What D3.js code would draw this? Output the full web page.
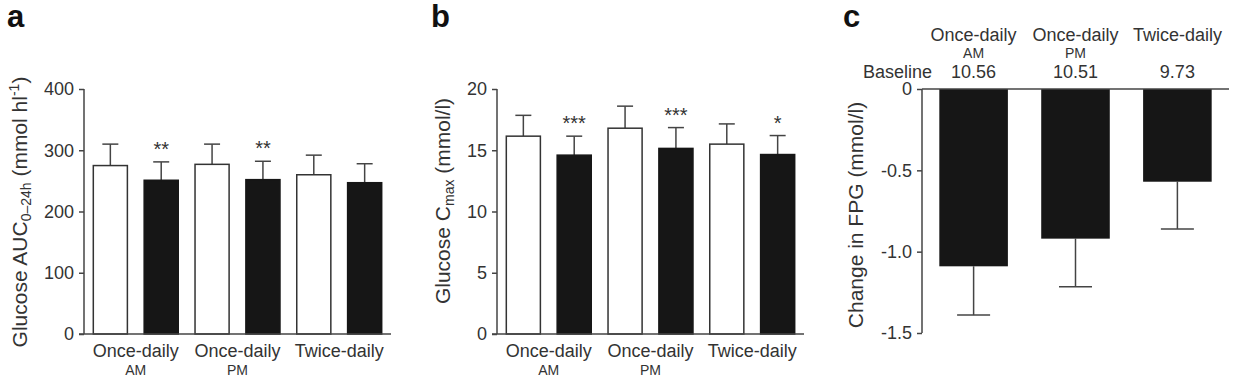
<!DOCTYPE html>
<html>
<head>
<meta charset="utf-8">
<script src="https://cdn.jsdelivr.net/npm/d3@7"></script>
<style>
  body { margin: 0; background: #fff; }
  text { font-family: "Liberation Sans", Arial, sans-serif; fill: #333; }
</style>
</head>
<body>
<div class="canvas"></div>
<script>
// data
const groups = ["Once-daily", "Once-daily", "Twice-daily"];
const subLabels = ["AM", "PM", ""];
const series = ["before", "after"];

// panel a: glucose AUC 0-24h
const aucBefore = [275, 277, 260];
const aucBeforeErr = [35, 33, 32];
const aucAfter = [251, 252, 247];
const aucAfterErr = [30, 30, 31];
const aucStars = ["**", "**", ""];
const aucTicks = [0, 100, 200, 300, 400];

// panel b: glucose Cmax
const cmaxBefore = [16.15, 16.8, 15.5];
const cmaxBeforeErr = [1.7, 1.8, 1.65];
const cmaxAfter = [14.6, 15.15, 14.65];
const cmaxAfterErr = [1.55, 1.7, 1.55];
const cmaxStars = ["***", "***", "*"];
const cmaxTicks = [0, 5, 10, 15, 20];

// panel c: change in FPG
const fpgChange = [-1.09, -0.92, -0.57];
const fpgErr = [0.3, 0.295, 0.29];
const baseline = ["10.56", "10.51", "9.73"];
const fpgTicks = [0, -0.5, -1.0, -1.5];

const W = 1236, H = 384;
const plotTop = 89, plotBottom = 334;
const axisColor = "#444";
const barBlack = "#161616";
const labelSize = 18;

const svg = d3.select(".canvas").append("svg")
  .attr("width", W)
  .attr("height", H);

// panel letters
[["a", 7, 27], ["b", 431, 27], ["c", 843, 27]].forEach(([t, x, y]) => {
  svg.append("text").attr("x", x).attr("y", y)
    .attr("font-size", 31).attr("font-weight", "bold")
    .style("fill", "#111")
    .text(t);
});

const drawLeftAxis = (g, y, ticks, fmt) => {
  const axis = d3.axisLeft(y).tickValues(ticks).tickSize(5).tickPadding(5).tickFormat(fmt);
  g.call(axis);
  g.select(".domain").attr("stroke", axisColor).attr("stroke-width", 1.5)
    .attr("d", `M0,${y.range()[0]}V${y.range()[1]}`);
  g.selectAll(".tick line").attr("stroke", axisColor).attr("stroke-width", 1.5);
  g.selectAll(".tick text").attr("font-size", labelSize).attr("fill", "#333")
    .style("font-family", '"Liberation Sans", Arial, sans-serif');
};

// grouped white/black bars with error bars (panels a, b)
const groupedPanel = (x0, x1, before, beforeErr, after, afterErr, stars, ticks, maxV, titleX, titleY, titleFn) => {
  const rows = [];
  groups.forEach((gname, i) => {
    rows.push({ key: i + "b", gi: i, s: "before", v: before[i], e: beforeErr[i], star: "" });
    rows.push({ key: i + "a", gi: i, s: "after", v: after[i], e: afterErr[i], star: stars[i] });
  });

  const x = d3.scaleBand().domain(rows.map(d => d.key)).range([x0, x1])
    .paddingInner(0.33).paddingOuter(0.183);
  const y = d3.scaleLinear().domain([0, maxV]).range([plotBottom, plotTop]);

  const g = svg.append("g");

  // error bars
  const eb = g.selectAll(".err").data(rows).enter().append("g");
  eb.append("line")
    .attr("x1", d => x(d.key) + x.bandwidth() / 2)
    .attr("x2", d => x(d.key) + x.bandwidth() / 2)
    .attr("y1", d => y(d.v))
    .attr("y2", d => y(d.v + d.e))
    .attr("stroke", axisColor).attr("stroke-width", 1.5);
  eb.append("line")
    .attr("x1", d => x(d.key) + x.bandwidth() / 2 - 8)
    .attr("x2", d => x(d.key) + x.bandwidth() / 2 + 8)
    .attr("y1", d => y(d.v + d.e))
    .attr("y2", d => y(d.v + d.e))
    .attr("stroke", axisColor).attr("stroke-width", 1.5);

  // bars
  g.selectAll(".bar").data(rows).enter().append("rect")
    .attr("x", d => x(d.key))
    .attr("width", x.bandwidth())
    .attr("y", d => y(d.v))
    .attr("height", d => plotBottom - y(d.v))
    .attr("fill", d => d.s === "before" ? "#fff" : barBlack)
    .attr("stroke", d => d.s === "before" ? "#333" : barBlack)
    .attr("stroke-width", 1.5);

  // significance stars
  g.selectAll(".star").data(rows.filter(d => d.star)).enter().append("text")
    .attr("x", d => x(d.key) + x.bandwidth() / 2)
    .attr("y", d => y(d.v + d.e) - 6)
    .attr("text-anchor", "middle")
    .attr("font-size", 20)
    .text(d => d.star);

  // x axis baseline
  g.append("line").attr("x1", x0 - 5).attr("x2", x1).attr("y1", plotBottom).attr("y2", plotBottom)
    .attr("stroke", axisColor).attr("stroke-width", 1.5);

  // group labels
  groups.forEach((gname, i) => {
    const cx = (x(i + "b") + x(i + "a") + x.bandwidth()) / 2;
    g.append("text").attr("x", cx).attr("y", 357).attr("text-anchor", "middle")
      .attr("font-size", labelSize).text(gname);
    if (subLabels[i]) {
      g.append("text").attr("x", cx).attr("y", 375).attr("text-anchor", "middle")
        .attr("font-size", 14).text(subLabels[i]);
    }
  });

  const ax = svg.append("g").attr("transform", `translate(${x0},0)`);
  drawLeftAxis(ax, y, ticks, d3.format("d"));

  const title = svg.append("text")
    .attr("transform", `translate(${titleX},${titleY}) rotate(-90)`)
    .attr("text-anchor", "middle")
    .attr("font-size", 21);
  titleFn(title);
};

groupedPanel(84, 391, aucBefore, aucBeforeErr, aucAfter, aucAfterErr, aucStars, aucTicks, 400, 27, 212, t => {
  t.append("tspan").text("Glucose AUC");
  t.append("tspan").attr("font-size", 14).attr("dy", 4).text("0\u201324h");
  t.append("tspan").attr("dy", -4).text(" (mmol hl");
  t.append("tspan").attr("font-size", 14).attr("dy", -8).text("-1");
  t.append("tspan").attr("dy", 8).text(")");
});

groupedPanel(497, 804, cmaxBefore, cmaxBeforeErr, cmaxAfter, cmaxAfterErr, cmaxStars, cmaxTicks, 20, 450, 201, t => {
  t.append("tspan").text("Glucose C");
  t.append("tspan").attr("font-size", 14).attr("dy", 4).text("max");
  t.append("tspan").attr("dy", -4).text(" (mmol/l)");
});

// panel c: change in FPG, bars hang from zero
(() => {
  const x0 = 922, x1 = 1229;
  const x = d3.scaleBand().domain(d3.range(groups.length)).range([x0, x1])
    .paddingInner(0.327).paddingOuter(0.17);
  const y = d3.scaleLinear().domain([0, -1.5]).range([plotTop, 333]);
  const g = svg.append("g");

  groups.forEach((gname, i) => {
    const cx = x(i) + x.bandwidth() / 2;
    g.append("line").attr("x1", cx).attr("x2", cx)
      .attr("y1", y(fpgChange[i])).attr("y2", y(fpgChange[i] - fpgErr[i]))
      .attr("stroke", axisColor).attr("stroke-width", 1.5);
    g.append("line").attr("x1", cx - 16.5).attr("x2", cx + 16.5)
      .attr("y1", y(fpgChange[i] - fpgErr[i])).attr("y2", y(fpgChange[i] - fpgErr[i]))
      .attr("stroke", axisColor).attr("stroke-width", 1.5);
  });

  g.selectAll(".bar").data(fpgChange).enter().append("rect")
    .attr("x", (d, i) => x(i))
    .attr("width", x.bandwidth())
    .attr("y", y(0))
    .attr("height", d => y(d) - y(0))
    .attr("fill", barBlack);

  const ax = svg.append("g").attr("transform", `translate(${x0},0)`);
  drawLeftAxis(ax, y, fpgTicks, d => d === 0 ? "0" : d3.format(".1f")(d).replace("\u2212", "-"));

  // zero line across the panel
  g.append("line").attr("x1", x0).attr("x2", x1).attr("y1", y(0)).attr("y2", y(0))
    .attr("stroke", axisColor).attr("stroke-width", 1.5);

  // top labels
  groups.forEach((gname, i) => {
    const cx = x(i) + x.bandwidth() / 2;
    g.append("text").attr("x", cx).attr("y", 41).attr("text-anchor", "middle")
      .attr("font-size", labelSize).text(gname);
    if (subLabels[i]) {
      g.append("text").attr("x", cx).attr("y", 58).attr("text-anchor", "middle")
        .attr("font-size", 14).text(subLabels[i]);
    }
    g.append("text").attr("x", cx).attr("y", 78).attr("text-anchor", "middle")
      .attr("font-size", labelSize).text(baseline[i]);
  });
  g.append("text").attr("x", 932).attr("y", 78).attr("text-anchor", "end")
    .attr("font-size", labelSize).text("Baseline");

  svg.append("text")
    .attr("transform", `translate(863,215) rotate(-90)`)
    .attr("text-anchor", "middle")
    .attr("font-size", 21)
    .text("Change in FPG (mmol/l)");
})();
</script>
</body>
</html>
